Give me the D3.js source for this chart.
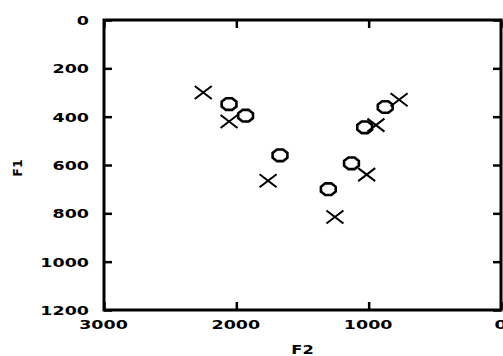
<!DOCTYPE html>
<html>
<head>
<meta charset="utf-8">
<script src="https://cdn.jsdelivr.net/npm/d3@7"></script>
<style>
	body { margin: 0; background: #fff; }
	svg { display: block; }
	.lbl { font-family: "DejaVu Sans", "Liberation Sans", sans-serif; font-weight: bold; font-size: 12.5px; fill: #000; }
</style>
</head>
<body>
<div id="chart"></div>
<script>
	"use strict";

	// vowel formants, circles and crosses
	var circleF2 = [2055, 1930, 1670, 875, 1030, 1130, 1305],
		circleF1 = [348, 396, 560, 360, 444, 593, 700],
		crossF2 = [2250, 2055, 1760, 770, 945, 1015, 1255],
		crossF1 = [300, 420, 665, 330, 435, 640, 815],
		xTicks = [3000, 2000, 1000, 0],
		yTicks = [0, 200, 400, 600, 800, 1000, 1200];

	var chartWidth = 503,
		chartHeight = 356,
		margin = {
			top: 20,
			right: 2,
			bottom: 46,
			left: 104
		},
		width = chartWidth - margin.left - margin.right,
		height = chartHeight - margin.top - margin.bottom,
		stretch = 1.4,
		fmt = d3.format("d");

	var svg = d3.select("#chart")
			.append("svg")
			.attr("width", chartWidth)
			.attr("height", chartHeight);

	var g = svg.append("g")
			.attr("transform", "translate(" + margin.left + "," + margin.top + ")");

	var x = d3.scaleLinear().domain([3000, 0]).range([0, width]),
		y = d3.scaleLinear().domain([0, 1200]).range([0, height]);

	function styleAxis(sel) {
		sel.select(".domain").remove();
		sel.selectAll(".tick line")
			.attr("stroke", "#000")
			.attr("stroke-width", 2.5);
	}

	// bottom axis with labels
	var xAxisG = g.append("g")
		.attr("transform", "translate(0," + height + ")")
		.call(d3.axisBottom(x).tickValues(xTicks).tickSize(-8).tickSizeOuter(0).tickFormat(fmt));
	styleAxis(xAxisG);
	xAxisG.selectAll("text")
		.attr("class", "lbl")
		.attr("y", null)
		.attr("dy", null)
		.attr("text-anchor", "middle")
		.attr("transform", "translate(-1,19) scale(" + stretch + ",1)");

	// left axis with labels
	var yAxisG = g.append("g")
		.call(d3.axisLeft(y).tickValues(yTicks).tickSize(-8).tickSizeOuter(0).tickFormat(fmt));
	styleAxis(yAxisG);
	yAxisG.selectAll("text")
		.attr("class", "lbl")
		.attr("x", null)
		.attr("dy", null)
		.attr("text-anchor", "end")
		.attr("transform", "translate(-15,4.5) scale(" + stretch + ",1)");

	// mirrored ticks on top and right
	var topG = g.append("g")
		.call(d3.axisTop(x).tickValues(xTicks).tickSize(-8).tickFormat(""));
	styleAxis(topG);
	var rightG = g.append("g")
		.attr("transform", "translate(" + width + ",0)")
		.call(d3.axisRight(y).tickValues(yTicks).tickSize(-8).tickFormat(""));
	styleAxis(rightG);

	// frame
	g.append("rect")
		.attr("x", 0)
		.attr("y", 0)
		.attr("width", width)
		.attr("height", height)
		.attr("fill", "none")
		.attr("stroke", "#000")
		.attr("stroke-width", 3);

	// axis titles
	svg.append("text")
		.attr("class", "lbl")
		.attr("font-size", "11.5px")
		.attr("text-anchor", "middle")
		.attr("transform", "translate(" + (margin.left + width / 2) + ",354) scale(1.3,1)")
		.text("F2");

	svg.append("text")
		.attr("class", "lbl")
		.attr("font-size", "11.5px")
		.attr("text-anchor", "middle")
		.attr("transform", "translate(22,168) rotate(-90)")
		.text("F1");

	// octagon marker
	var rx = 8, ry = 6.3, octPts = [], k, a;
	for (k = 0; k < 8; ++k) {
		a = Math.PI / 8 + k * Math.PI / 4;
		octPts.push([rx * Math.cos(a), ry * Math.sin(a)]);
	}
	var octPath = "M" + octPts.map(function(p) { return p[0].toFixed(2) + "," + p[1].toFixed(2); }).join("L") + "Z";
	var crossPath = "M-8.5,-6.5L8.5,6.5M-8.5,6.5L8.5,-6.5";

	g.selectAll(".circ")
		.data(d3.range(circleF2.length))
		.enter()
		.append("path")
		.attr("class", "circ")
		.attr("transform", function(i) {
			return "translate(" + x(circleF2[i]) + "," + y(circleF1[i]) + ")";
		})
		.attr("d", octPath)
		.attr("fill", "none")
		.attr("stroke", "#000")
		.attr("stroke-width", 2.6);

	g.selectAll(".cross")
		.data(d3.range(crossF2.length))
		.enter()
		.append("path")
		.attr("class", "cross")
		.attr("transform", function(i) {
			return "translate(" + x(crossF2[i]) + "," + y(crossF1[i]) + ")";
		})
		.attr("d", crossPath)
		.attr("fill", "none")
		.attr("stroke", "#000")
		.attr("stroke-width", 2);
</script>
</body>
</html>
